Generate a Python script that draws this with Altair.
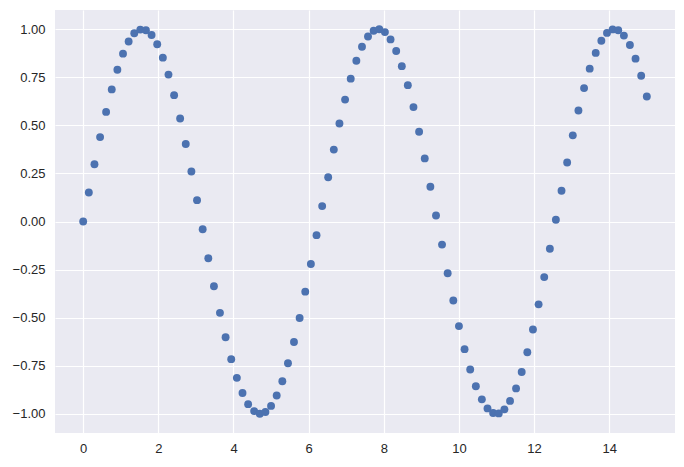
import altair as alt
import pandas as pd

x_vals = [0.00, 0.15, 0.30, 0.45, 0.61, 0.76, 0.91, 1.06, 1.21, 1.36,
          1.52, 1.67, 1.82, 1.97, 2.12, 2.27, 2.42, 2.58, 2.73, 2.88,
          3.03, 3.18, 3.33, 3.48, 3.64, 3.79, 3.94, 4.09, 4.24, 4.39,
          4.55, 4.70, 4.85, 5.00, 5.15, 5.30, 5.45, 5.61, 5.76, 5.91,
          6.06, 6.21, 6.36, 6.52, 6.67, 6.82, 6.97, 7.12, 7.27, 7.42,
          7.58, 7.73, 7.88, 8.03, 8.18, 8.33, 8.48, 8.64, 8.79, 8.94,
          9.09, 9.24, 9.39, 9.55, 9.70, 9.85, 10.00, 10.15, 10.30, 10.45,
          10.61, 10.76, 10.91, 11.06, 11.21, 11.36, 11.52, 11.67, 11.82, 11.97,
          12.12, 12.27, 12.42, 12.58, 12.73, 12.88, 13.03, 13.18, 13.33, 13.48,
          13.64, 13.79, 13.94, 14.09, 14.24, 14.39, 14.55, 14.70, 14.85, 15.00]

y_vals = [0.000, 0.151, 0.298, 0.439, 0.570, 0.687, 0.789, 0.873, 0.936, 0.979,
          0.998, 0.995, 0.970, 0.922, 0.852, 0.764, 0.657, 0.536, 0.403, 0.260,
          0.111, -0.040, -0.191, -0.337, -0.475, -0.602, -0.716, -0.813, -0.892, -0.950,
          -0.986, -1.000, -0.991, -0.959, -0.905, -0.831, -0.737, -0.627, -0.502, -0.365,
          -0.221, -0.071, 0.080, 0.230, 0.374, 0.510, 0.634, 0.743, 0.836, 0.909,
          0.962, 0.992, 1.000, 0.985, 0.947, 0.887, 0.808, 0.709, 0.595, 0.467,
          0.328, 0.181, 0.031, -0.120, -0.269, -0.411, -0.544, -0.664, -0.770, -0.857,
          -0.925, -0.972, -0.996, -0.998, -0.977, -0.933, -0.868, -0.783, -0.680, -0.562,
          -0.431, -0.289, -0.142, 0.009, 0.160, 0.307, 0.448, 0.577, 0.694, 0.795,
          0.877, 0.940, 0.981, 0.999, 0.995, 0.967, 0.918, 0.847, 0.758, 0.650]

x_ticks = [0, 2, 4, 6, 8, 10, 12, 14]
y_ticks = [-1.0, -0.75, -0.5, -0.25, 0.0, 0.25, 0.5, 0.75, 1.0]

df = pd.DataFrame({"x": x_vals, "y": y_vals})

axis_common = dict(
    grid=True,
    gridColor="white",
    gridWidth=1.2,
    gridOpacity=1,
    ticks=False,
    tickSize=0,
    domain=False,
    labelFont="Liberation Sans",
    labelFontSize=13,
    labelColor="#262626",
    title=None,
)

chart = alt.Chart(df).mark_circle(size=62, opacity=1, color="#4C72B0").encode(
    x=alt.X("x:Q", scale=alt.Scale(domain=[-0.75, 15.75], nice=False, zero=False),
            axis=alt.Axis(values=x_ticks, format="d", labelPadding=9, **axis_common)),
    y=alt.Y("y:Q", scale=alt.Scale(domain=[-1.1, 1.1], nice=False, zero=False),
            axis=alt.Axis(values=y_ticks, format=".2f", labelPadding=10, **axis_common)),
).properties(
    width=620,
    height=423,
    autosize=alt.AutoSizeParams(type="none"),
    padding={"left": 47, "top": 2, "right": 1, "bottom": 26},
).configure(
    background="white",
    view=alt.ViewConfig(fill="#EAEAF2", stroke=None, strokeWidth=0),
)

chart.save("out.html", embed_options={"renderer": "svg", "actions": False})
